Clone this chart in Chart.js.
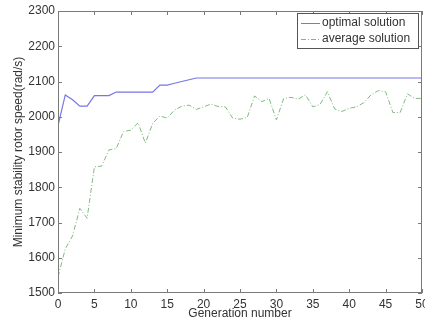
<!DOCTYPE html>
<html>
<head>
<meta charset="utf-8">
<script src="https://cdn.jsdelivr.net/npm/chart.js@4.4.0/dist/chart.umd.min.js"></script>
<style>
  html, body { margin: 0; padding: 0; background: #fff; }
  #wrap { width: 425px; height: 327px; }
</style>
</head>
<body>
<div id="wrap"><canvas id="chart" width="425" height="327"></canvas></div>
<script>
const generations = [];
for (let g = 0; g <= 50; g++) generations.push(g);

const optimal = [1975, 2062, 2048, 2030, 2030, 2060, 2060, 2060, 2070, 2070,
    2070, 2070, 2070, 2070, 2090, 2090, 2095, 2100, 2105, 2110,
    2110, 2110, 2110, 2110, 2110, 2110, 2110, 2110, 2110, 2110,
    2110, 2110, 2110, 2110, 2110, 2110, 2110, 2110, 2110, 2110,
    2110, 2110, 2110, 2110, 2110, 2110, 2110, 2110, 2110, 2110, 2110];

const average = [1546, 1625, 1662, 1740, 1712, 1858, 1860, 1906, 1910, 1958,
    1962, 1983, 1925, 1981, 2002, 1996, 2019, 2030, 2033, 2021,
    2028, 2036, 2029, 2028, 1996, 1993, 1998, 2059, 2043, 2052,
    1991, 2052, 2055, 2050, 2062, 2028, 2035, 2071, 2022, 2015,
    2024, 2028, 2040, 2062, 2074, 2071, 2012, 2012, 2065, 2052, 2052];

const seriesNames = ['optimal solution', 'average solution'];

const axisColor = '#7a7a7a';
const textColor = '#333';
const fontFam = '"Liberation Sans", Arial, sans-serif';

// MATLAB-style box with inward ticks on all four sides
const boxPlugin = {
    id: 'box',
    afterDraw(chart) {
        const c = chart.ctx;
        const a = chart.chartArea;
        const xs = chart.scales.x, ys = chart.scales.y;
        c.save();
        c.strokeStyle = axisColor;
        c.lineWidth = 1;
        c.strokeRect(a.left + 0.5, a.top + 0.5, a.right - a.left - 1, a.bottom - a.top - 1);
        c.beginPath();
        xs.ticks.forEach(t => {
            const px = Math.round(xs.getPixelForValue(t.value)) + 0.5;
            c.moveTo(px, a.bottom); c.lineTo(px, a.bottom - 4);
            c.moveTo(px, a.top); c.lineTo(px, a.top + 4);
        });
        ys.ticks.forEach(t => {
            const py = Math.round(ys.getPixelForValue(t.value)) + 0.5;
            c.moveTo(a.left, py); c.lineTo(a.left + 4, py);
            c.moveTo(a.right, py); c.lineTo(a.right - 4, py);
        });
        c.stroke();

        // legend box in the top right corner
        const bw = 121, bh = 35;
        const bx = a.right - bw - 4, by = a.top + 2;
        c.fillStyle = '#fff';
        c.fillRect(bx, by, bw, bh);
        c.strokeStyle = '#555';
        c.strokeRect(bx + 0.5, by + 0.5, bw, bh);
        c.font = '12px ' + fontFam;
        c.textBaseline = 'middle';
        chart.data.datasets.forEach((ds, i) => {
            const ly = by + 10 + i * 16;
            c.strokeStyle = ds.borderColor;
            c.lineWidth = 1;
            c.setLineDash(ds.borderDash || []);
            c.beginPath();
            c.moveTo(bx + 4, ly + 0.5); c.lineTo(bx + 23, ly + 0.5);
            c.stroke();
            c.setLineDash([]);
            c.fillStyle = textColor;
            c.fillText(ds.label, bx + 25, ly);
        });
        c.restore();
    }
};

new Chart(document.getElementById('chart'), {
    type: 'line',
    data: {
        datasets: [{
            label: seriesNames[0],
            data: generations.map((g, i) => ({ x: g, y: optimal[i] })),
            borderColor: 'rgb(118, 118, 232)',
            borderWidth: 1.2,
            pointRadius: 0,
            tension: 0
        }, {
            label: seriesNames[1],
            data: generations.map((g, i) => ({ x: g, y: average[i] })),
            borderColor: 'rgb(130, 185, 130)',
            borderDash: [5, 2, 1, 2],
            borderWidth: 1,
            pointRadius: 0,
            tension: 0
        }]
    },
    options: {
        responsive: false,
        animation: false,
        layout: { padding: { top: 11, right: 3, left: 0, bottom: 0 } },
        plugins: { legend: { display: false }, tooltip: { enabled: false } },
        scales: {
            x: {
                type: 'linear',
                min: 0, max: 50,
                grid: { display: false, drawTicks: false, tickLength: 0 },
                border: { display: false },
                ticks: { stepSize: 5, color: textColor, padding: 4,
                    font: { family: fontFam, size: 12 } },
                title: { display: true, text: 'Generation number', color: textColor,
                    padding: { top: 0, bottom: 6 },
                    font: { family: fontFam, size: 12 } },
                afterFit(s) { s.height = 34; s.paddingRight = 0; s.paddingLeft = 0; }
            },
            y: {
                min: 1500, max: 2300,
                grid: { display: false, drawTicks: false, tickLength: 0 },
                border: { display: false },
                ticks: { stepSize: 100, color: textColor, padding: 3,
                    callback: v => String(v),
                    font: { family: fontFam, size: 12 } },
                title: { display: true, text: 'Minimum stability rotor speed(rad/s)', color: textColor,
                    padding: { top: 11, bottom: 0 },
                    font: { family: fontFam, size: 12 } },
                afterFit(s) { s.width = 58; s.paddingTop = 0; s.paddingBottom = 0; }
            }
        }
    },
    plugins: [boxPlugin]
});
</script>
</body>
</html>
